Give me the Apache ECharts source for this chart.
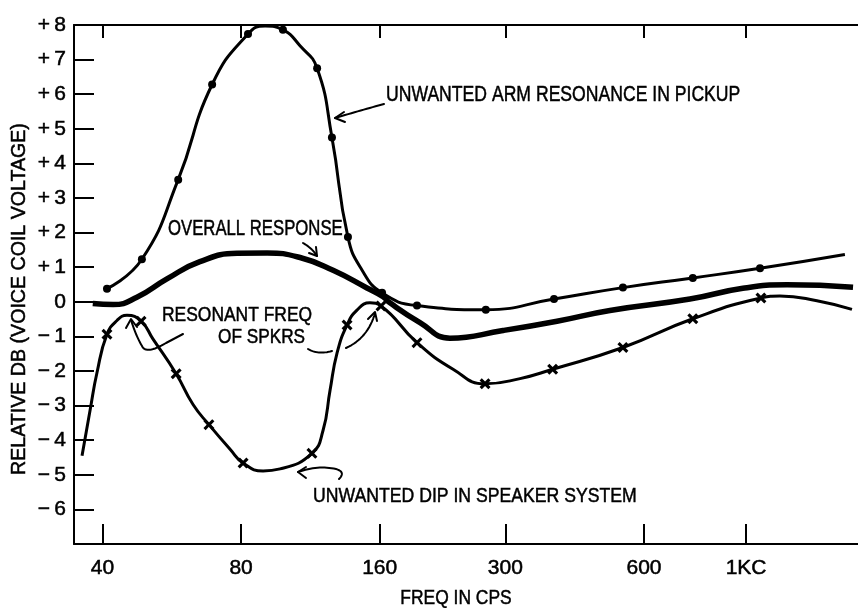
<!DOCTYPE html>
<html>
<head>
<meta charset="utf-8">
<script src="https://cdn.jsdelivr.net/npm/echarts@6/dist/echarts.min.js"></script>
<style>
  html, body { margin: 0; padding: 0; background: #fff; }
  #chart { width: 858px; height: 608px; }
</style>
</head>
<body>
<div id="chart"></div>
<script>
// Frequency ticks (cps) and their printed labels
const tickFreqs = [40, 80, 160, 300, 600, 1000];
const tickLabels = ['40', '80', '160', '300', '600', '1KC'];

// Overall response: heavy curve, no plotted points
const overallFreq = [38.1, 42.2, 47.5, 55.2, 65.1, 78.4, 91.1, 107.4, 126.7, 150.1, 162.7, 168.4, 195.7, 227.4, 296.4, 388.4, 506, 755, 984, 1227, 1707];
const overallDb   = [-0.05, -0.08, 0.13, 0.66, 1.16, 1.40, 1.41, 1.28, 0.91, 0.40, 0.15, -0.03, -0.60, -1.05, -0.83, -0.56, -0.25, 0.08, 0.39, 0.49, 0.42];

// Unwanted arm resonance in pickup (dots mark measured points)
const armFreq   = [40.9, 48.7, 58.4, 69.2, 82.8, 90.2, 98.6, 107.4, 117, 126, 136.5, 146.4, 161.9, 192.8, 272, 382.6, 540, 766, 1072, 1639];
const armDb     = [0.38, 1.23, 3.53, 6.28, 7.74, 7.97, 7.86, 7.40, 6.75, 4.75, 1.87, 0.92, 0.26, -0.11, -0.23, 0.08, 0.41, 0.69, 0.97, 1.37];
const armMarked = [1, 1, 1, 1, 1, 0, 1, 0, 1, 1, 1, 0, 1, 1, 1, 1, 1, 1, 1, 0];

// Unwanted dip in speaker system (crosses mark measured points)
const dipFreq   = [36.1, 37.6, 38.9, 40.9, 43.0, 45.2, 48.5, 51.5, 57.8, 62.9, 68.1, 75.7, 80.8, 89.3, 97.2, 114.0, 120.5, 124.8, 129.2, 135.9, 142.8, 152.4, 161, 192.8, 230.9, 271, 322.8, 380, 540, 766, 1077, 1184, 1425, 1698];
const dipDb     = [-4.45, -3.12, -2.05, -0.94, -0.54, -0.39, -0.56, -1.08, -2.08, -2.97, -3.55, -4.26, -4.66, -4.89, -4.83, -4.38, -3.72, -2.56, -1.49, -0.67, -0.24, -0.03, -0.12, -1.18, -1.95, -2.37, -2.22, -1.95, -1.32, -0.49, 0.11, 0.17, 0.03, -0.22];
const dipMarked = [0, 0, 0, 1, 0, 0, 1, 0, 1, 0, 1, 0, 1, 0, 0, 1, 0, 0, 0, 1, 0, 0, 1, 1, 0, 1, 0, 1, 1, 1, 1, 0, 0, 0];

const ink = '#000';
const letterFont = '"Liberation Sans", Arial, sans-serif';
const crossSymbol = 'path://M2,0L5,3L8,0L10,2L7,5L10,8L8,10L5,7L2,10L0,8L3,5L0,2Z';

function points(freq, db, marked, symbol) {
  return freq.map((f, i) => ({
    value: [f, db[i]],
    symbol: marked && marked[i] ? symbol : 'none'
  }));
}

function tickLabel(v) {
  let best = 0;
  tickFreqs.forEach((f, i) => {
    if (Math.abs(Math.log(v / f)) < Math.abs(Math.log(v / tickFreqs[best]))) best = i;
  });
  return tickLabels[best];
}

function dbLabel(v) {
  if (v === -7) return '';
  if (v > 0) return '+\u2009' + v;
  if (v < 0) return '\u2212\u2009' + (-v);
  return '0';
}

function text(str, x, y, size, sx, rot, align) {
  return {
    type: 'text', x: x, y: y, scaleX: sx, rotation: rot || 0, z: 20,
    style: {
      text: str, fill: ink, fontSize: size, fontFamily: letterFont,
      align: align || 'left', verticalAlign: 'middle',
      textAlign: align || 'left', textVerticalAlign: 'middle',
      stroke: ink, lineWidth: 0.5
    }
  };
}

// quadratic bend sampled into a polyline
function bend(p0, c, p1) {
  const out = [];
  for (let i = 0; i <= 16; i++) {
    const t = i / 16, u = 1 - t;
    out.push([u * u * p0[0] + 2 * u * t * c[0] + t * t * p1[0],
              u * u * p0[1] + 2 * u * t * c[1] + t * t * p1[1]]);
  }
  return out;
}

function pen(pts, w) {
  return {
    type: 'polyline', z: 20,
    shape: { points: pts },
    style: { stroke: ink, fill: null, lineWidth: w || 2, lineCap: 'round', lineJoin: 'round' }
  };
}

const xAxisCommon = {
  type: 'log',
  logBase: 10,
  min: 34.68,
  max: 1750,
  splitLine: { show: false },
  minorTick: { show: false },
  axisLine: { onZero: false, lineStyle: { color: ink, width: 2 } }
};

const chart = echarts.init(document.getElementById('chart'), null, { renderer: 'canvas' });

chart.setOption({
  backgroundColor: '#fff',
  animation: false,
  grid: { left: 74, right: 0, top: 25, bottom: 64, outerBoundsMode: 'none', containLabel: false },
  xAxis: [
    Object.assign({}, xAxisCommon, {
      position: 'bottom',
      axisTick: { inside: true, length: 20, customValues: tickFreqs, lineStyle: { color: ink, width: 2 } },
      axisLabel: {
        customValues: tickFreqs, formatter: tickLabel, margin: 14,
        color: ink, fontSize: 21, fontFamily: letterFont,
        textBorderColor: ink, textBorderWidth: 0.5
      }
    }),
    Object.assign({}, xAxisCommon, {
      position: 'top',
      axisTick: { inside: true, length: 13, customValues: tickFreqs, lineStyle: { color: ink, width: 2 } },
      axisLabel: { show: false }
    })
  ],
  yAxis: {
    type: 'value',
    min: -7,
    max: 8,
    interval: 1,
    splitLine: { show: false },
    axisLine: { show: true, onZero: false, lineStyle: { color: ink, width: 2 } },
    axisTick: { inside: true, length: 20, lineStyle: { color: ink, width: 2 } },
    axisLabel: {
      formatter: dbLabel, margin: 8, color: ink, fontSize: 21, fontFamily: letterFont,
      textBorderColor: ink, textBorderWidth: 0.5
    }
  },
  series: [
    {
      name: 'OVERALL RESPONSE',
      type: 'line',
      smooth: 0.5,
      symbol: 'none',
      lineStyle: { color: ink, width: 5.5 },
      data: points(overallFreq, overallDb, null, 'none'),
      z: 3
    },
    {
      name: 'UNWANTED ARM RESONANCE IN PICKUP',
      type: 'line',
      smooth: 0.5,
      showAllSymbol: true,
      symbolSize: 8,
      itemStyle: { color: ink, borderWidth: 0 },
      lineStyle: { color: ink, width: 3 },
      data: points(armFreq, armDb, armMarked, 'circle'),
      z: 4
    },
    {
      name: 'UNWANTED DIP IN SPEAKER SYSTEM',
      type: 'line',
      smooth: 0.5,
      showAllSymbol: true,
      symbolSize: 11,
      itemStyle: { color: ink, borderWidth: 0 },
      lineStyle: { color: ink, width: 3 },
      data: points(dipFreq, dipDb, dipMarked, crossSymbol),
      z: 4
    }
  ],
  graphic: [
    // axis titles
    text('RELATIVE DB (VOICE COIL VOLTAGE)', 19, 299, 20, 0.98, Math.PI / 2, 'center'),
    text('FREQ IN CPS', 456, 598, 21, 0.83, 0, 'center'),
    // curve callouts
    text('UNWANTED ARM RESONANCE IN PICKUP', 386, 95, 22, 0.80),
    pen(bend([384, 104], [362, 110], [335, 118])),
    pen([[344, 112], [335, 118], [345, 122]]),
    text('OVERALL RESPONSE', 168, 229, 22, 0.76),
    pen(bend([303, 243], [312, 248], [317, 256])),
    pen([[309, 253], [317, 256], [316, 247]]),
    text('RESONANT FREQ', 162, 315, 21, 0.83),
    text('OF SPKRS', 218, 337, 21, 0.82),
    pen([[183, 334], [166, 343]].concat(bend([166, 343], [146, 355], [142, 346])).concat(bend([142, 346], [136, 336], [131, 320]))),
    pen([[126, 328], [131, 319], [137, 327]]),
    pen(bend([308, 349], [318, 355], [332, 351])),
    pen(bend([346, 348], [368, 338], [375, 313])),
    pen([[368, 319], [375, 312], [377, 321]]),
    text('UNWANTED DIP IN SPEAKER SYSTEM', 313, 496, 21, 0.84),
    pen(bend([298, 472], [318, 465], [336, 469]).concat(bend([336, 469], [346, 472], [339, 479]))),
    pen([[306, 467], [298, 472], [306, 478]])
  ]
});
</script>
</body>
</html>
